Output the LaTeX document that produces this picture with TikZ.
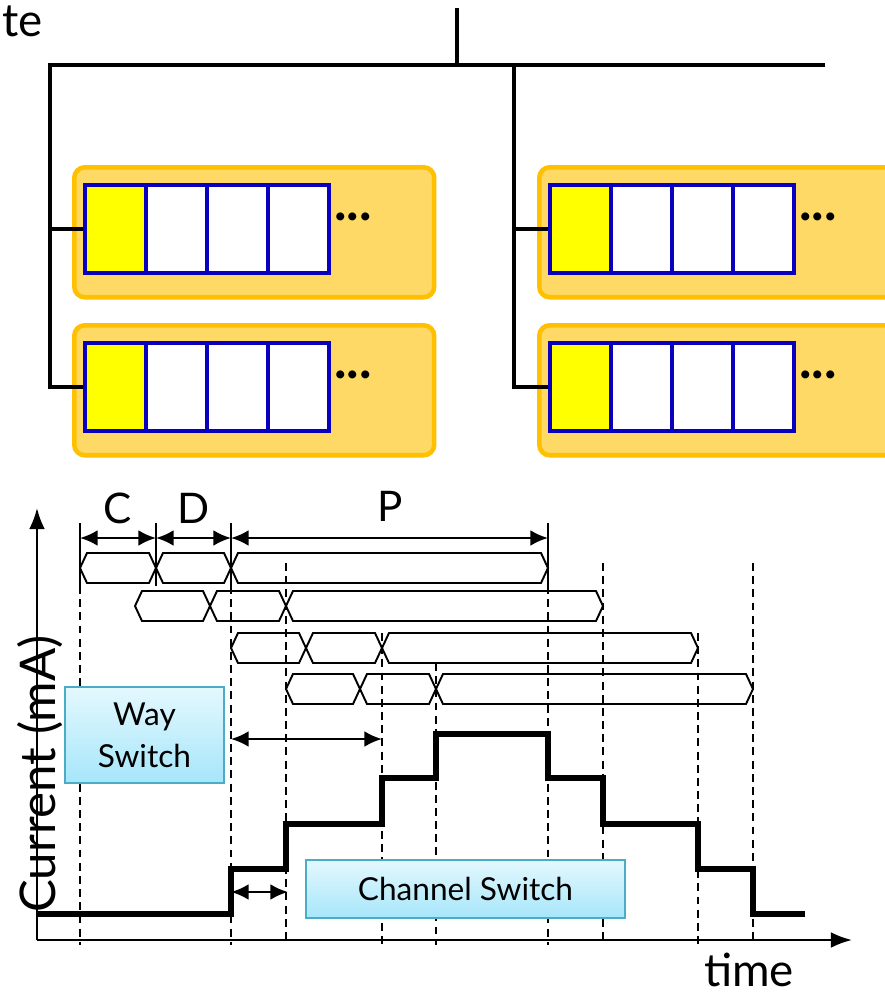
\documentclass[tikz,border=0pt]{standalone}
\usepackage{fontspec}
\setmainfont{Lato}
\usetikzlibrary{arrows.meta}
\definecolor{bankfill}{HTML}{FFD966}
\definecolor{bankedge}{HTML}{FFC000}
\definecolor{cellblue}{HTML}{0A00C0}
\definecolor{cellyellow}{HTML}{FFFF00}
\definecolor{calloutedge}{HTML}{4BACC6}
\definecolor{callouttop}{HTML}{E4F8FE}
\definecolor{calloutbot}{HTML}{A6E6FA}
\newcommand{\busword}[3]{\draw[hexa] (#1,#3) -- ({#1+7},{#3-15}) -- ({#2-7},{#3-15}) -- (#2,#3) -- ({#2-7},{#3+15}) -- ({#1+7},{#3+15}) -- cycle;}
\begin{document}
\begin{tikzpicture}[x=0.02cm,y=-0.02cm,
	bank/.style={draw=bankedge,fill=bankfill,line width=2.6pt,rounded corners=6pt,minimum width=7.2cm,minimum height=2.6cm,inner sep=0pt},
	cell/.style={draw=cellblue,fill=white,line width=2.6pt,minimum width=1.22cm,minimum height=1.76cm,inner sep=0pt},
	wire/.style={line width=2.3pt},
	hexa/.style={line width=1.1pt,line join=miter},
	guide/.style={line width=1.1pt,dash pattern=on 4.5pt off 3pt},
	tick/.style={line width=1.1pt},
	dim/.style={line width=1.4pt,{Latex[length=10pt,width=9pt]}-{Latex[length=10pt,width=9pt]}},
	axis/.style={line width=1.3pt,-{Latex[length=12pt,width=9pt]}},
	current/.style={line width=3.4pt,line join=miter},
	callout/.style={draw=calloutedge,line width=1pt,top color=callouttop,bottom color=calloutbot,inner sep=0pt,align=center,font=\fontsize{18}{24}\selectfont}]
	\clip (0,0) rectangle (885,995);
	\fill[white] (0,0) rectangle (885,995);
	\node[anchor=north west,inner sep=0pt,font=\fontsize{26}{30}\selectfont] (cut) at (2,5) {te};
	\foreach \b/\x/\y in {l1/72/165,l2/72/323,r1/537/165,r2/537/323}{
		\node[bank,anchor=north west] (\b) at (\x,\y) {};
		\foreach \i in {1,...,4}
			\node[cell] (\b c\i) at ({\x+13+61*(\i-1)+30.5},{\y+64}) {};
		\node[draw=cellblue,fill=cellyellow,line width=2.6pt,minimum width=1.22cm,minimum height=1.76cm,inner sep=0pt] (\b y) at (\b c1) {};
		\node[font=\fontsize{30}{30}\selectfont\bfseries] (\b dots) at ({\x+281},{\y+52}) {...};
	}
	\coordinate (rootTop) at (457,8);
	\coordinate (busL) at (50,65);
	\coordinate (busR) at (825,65);
	\coordinate (tapR) at (514,65);
	\draw[wire] (rootTop) -- (rootTop |- busL);
	\draw[wire] (busR) -- (busL) |- (l2y.west);
	\draw[wire] (tapR) |- (r2y.west);
	\draw[wire] (busL |- l1y.west) -- (l1y.west);
	\draw[wire] (tapR |- r1y.west) -- (r1y.west);
	\coordinate (origin) at (37,940);
	\coordinate (yEnd) at (37,508);
	\coordinate (xEnd) at (852,940);
	\draw[axis] (origin) -- (yEnd);
	\draw[axis] (origin) -- (xEnd);
	\foreach \x in {80,156,231,548}
		\draw[tick] (\x,523) -- (\x,586);
	\foreach \x/\t in {80/586,231/586,286/563,382/633,436/663,548/586,603/563,698/633,753/563}
		\draw[guide] (\x,\t) -- (\x,945);
	\foreach \a/\b/\c/\d/\y in {80/156/231/548/568,135/210/286/603/606,231/306/382/698/648,286/360/436/753/689}{
		\busword{\a}{\b}{\y}
		\busword{\b}{\c}{\y}
		\busword{\c}{\d}{\y}
	}
	\coordinate (c0) at (80,538);
	\coordinate (c1) at (156,538);
	\coordinate (c2) at (231,538);
	\coordinate (c3) at (548,538);
	\draw[dim] (c0) -- (c1);
	\draw[dim] (c1) -- (c2);
	\draw[dim] (c2) -- (c3);
	\node[font=\fontsize{24}{24}\selectfont] (lblC) at (118,508) {C};
	\node[font=\fontsize{24}{24}\selectfont] (lblD) at (194,508) {D};
	\node[font=\fontsize{24}{24}\selectfont] (lblP) at (390,506) {P};
	\node[callout,minimum width=3.18cm,minimum height=1.92cm] (waysw) at (144.5,735) {Way\\Switch};
	\node[callout,minimum width=6.38cm,minimum height=1.16cm] (chansw) at (465.5,889) {Channel Switch};
	\coordinate (wayA) at (231,739);
	\coordinate (wayB) at (382,739);
	\coordinate (chanA) at (231,892);
	\coordinate (chanB) at (288,892);
	\draw[dim] (wayA) -- (wayB);
	\draw[dim] (chanA) -- (chanB);
	\draw[current] (37,914) -- (231,914) -- (231,869) -- (286,869) -- (286,824) -- (382,824) -- (382,778) -- (436,778) -- (436,734) -- (548,734) -- (548,778) -- (603,778) -- (603,824) -- (698,824) -- (698,869) -- (753,869) -- (753,914) -- (805,914);
	\node[font=\fontsize{26}{26}\selectfont] (lblTime) at (749,970) {time};
	\node[rotate=90,font=\fontsize{28}{28}\selectfont] (lblCurrent) at (40,774) {Current (mA)};
\end{tikzpicture}
\end{document}
